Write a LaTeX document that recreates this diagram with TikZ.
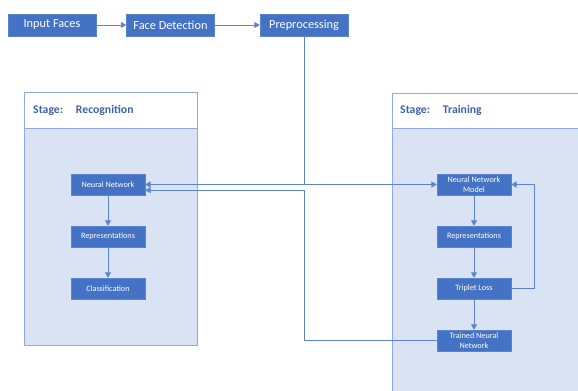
\documentclass[tikz,border=0pt]{standalone}
\usepackage{fontspec}
\setmainfont{Carlito}
\usetikzlibrary{arrows.meta,positioning}
\definecolor{boxblue}{HTML}{4472C4}
\definecolor{lineblue}{HTML}{5B84D0}
\definecolor{panelfill}{HTML}{DAE3F3}
\definecolor{panelline}{HTML}{8FAADC}
\definecolor{titleblue}{HTML}{3F62AE}
\begin{document}
\begin{tikzpicture}[node distance=1.56cm, auto,
    block/.style={draw=lineblue, fill=boxblue, text=white, minimum width=2.64cm, minimum height=0.66cm, font=\fontsize{10.5}{12}\selectfont},
    smallblock/.style={draw=lineblue, fill=boxblue, text=white, minimum width=2.22cm, minimum height=0.63cm, inner sep=1pt, align=center, font=\fontsize{7}{8.2}\selectfont},
    stagetitle/.style={anchor=west, inner sep=0pt, text=titleblue, font=\fontsize{10}{12}\selectfont\bfseries},
    link/.style={draw=lineblue, line width=0.6pt, -{Triangle[width=5pt,length=4.5pt]}}]
        \useasboundingbox (0,0) rectangle (17.34,-11.73);

        % Panels
        \draw[panelline, fill=panelfill, line width=0.6pt] (0.72,-3.84) rectangle (5.91,-10.35);
        \draw[panelline, fill=white, line width=0.6pt] (0.72,-2.76) rectangle (5.91,-3.84);
        \node (rectitle) [stagetitle] at (0.99,-3.3) {Stage:\hspace{1.1em}Recognition};
        \draw[panelline, fill=panelfill, line width=0.6pt] (11.76,-3.84) rectangle (17.6,-12);
        \draw[panelline, fill=white, line width=0.6pt] (11.76,-2.79) rectangle (17.6,-3.84);
        \node (traintitle) [stagetitle] at (12.0,-3.3) {Stage:\hspace{1.1em}Training};

        % Nodes
        \node (input) [block] at (1.56,-0.75) {Input Faces};
        \node (detect) [block] at (5.115,-0.75) {Face Detection};
        \node (prep) [block] at (9.12,-0.75) {Preprocessing};

        \node (nn) [smallblock] at (3.24,-5.535) {Neural Network};
        \node (rep) [smallblock, below of=nn] {Representations};
        \node (cls) [smallblock, below of=rep] {Classification};

        \node (nnm) [smallblock] at (14.22,-5.535) {Neural Network\\Model};
        \node (trep) [smallblock, below of=nnm] {Representations};
        \node (loss) [smallblock, below of=trep] {Triplet Loss};
        \node (tnn) [smallblock, below of=loss] {Trained Neural\\Network};

        % Edges
        \draw[link] (input) -- (detect);
        \draw[link] (detect) -- (prep);
        \draw[link] (prep.south) |- (nnm.west);
        \draw[link] (prep.south) |- (nn.east);
        \draw[link] (tnn.west) -| ([yshift=-0.17cm]prep.south |- nn.east) -- ([yshift=-0.17cm]nn.east);
        \draw[link] (nn) -- (rep);
        \draw[link] (rep) -- (cls);
        \draw[link] (nnm) -- (trep);
        \draw[link] (trep) -- (loss);
        \draw[link] (loss) -- (tnn);
        \draw[link] (loss.east) -- ++(0.69,0) |- (nnm.east);
    \end{tikzpicture}
\end{document}
